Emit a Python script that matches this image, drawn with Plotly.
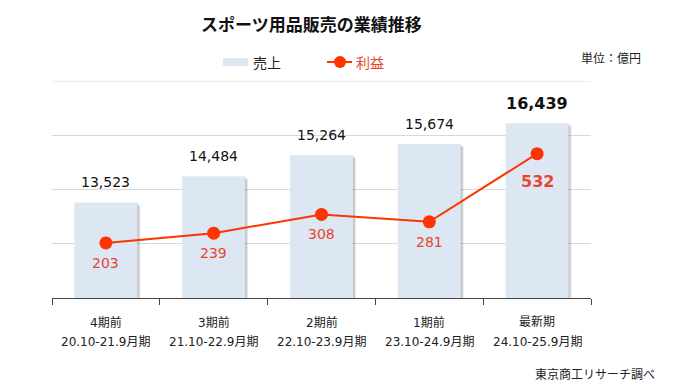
import plotly.graph_objects as go

# ---- data ----
periods = ["4期前", "3期前", "2期前", "1期前", "最新期"]
fiscal = ["20.10-21.9月期", "21.10-22.9月期", "22.10-23.9月期", "23.10-24.9月期", "24.10-25.9月期"]
sales = [13523, 14484, 15264, 15674, 16439]
profit = [203, 239, 308, 281, 532]
sales_name = "売上"
profit_name = "利益"
title_text = "スポーツ用品販売の業績推移"
unit_text = "単位：億円"
source_text = "東京商工リサーチ調べ"

# ---- layout geometry (page pixels) ----
PAGE_W, PAGE_H = 676, 391
OFF = 8  # default body margin of the html page
W, H = PAGE_W - 2 * OFF, PAGE_H - 2 * OFF
PL, PR, PT, PB = 52, 591, 81, 298
Y1 = [10000, 18000]
Y2 = [0, 800]

def fx(p):
    return (p - PL) / (PR - PL)

def fy(p):
    return (PB - p) / (PB - PT)

cat_px = (PR - PL) / len(periods)
BW = 63 / cat_px
unit_per_px = (Y1[1] - Y1[0]) / (PB - PT)

BAR_COLOR = "#dce7f3"
LINE_COLOR = "#ff3300"
PLABEL_COLOR = "#e8452f"
GRID = "#d9d9d9"
NUMFONT = "DejaVu Sans, Noto Sans CJK JP"
JPFONT = "Noto Sans CJK JP, DejaVu Sans"

fig = go.Figure()

# soft shadow layers on the right of bars
for k in (1, 2, 3):
    fig.add_trace(go.Bar(
        x=periods, y=[v - k * unit_per_px for v in sales],
        width=BW, offset=-BW / 2 + k / cat_px,
        marker=dict(color="rgba(0,0,0,0.09)", line=dict(width=0)),
        hoverinfo="skip", showlegend=False,
    ))

fig.add_trace(go.Bar(
    x=periods, y=sales, name=sales_name,
    width=BW, offset=-BW / 2,
    marker=dict(color=BAR_COLOR, line=dict(width=0)),
    showlegend=False,
))

fig.add_trace(go.Scatter(
    x=periods, y=profit, name=profit_name, yaxis="y2",
    mode="lines+markers",
    line=dict(color=LINE_COLOR, width=2),
    marker=dict(color=LINE_COLOR, size=13),
    showlegend=False,
))

annotations = []
last = len(periods) - 1
for i, (p, s, pr) in enumerate(zip(periods, sales, profit)):
    bold = i == last
    annotations.append(dict(
        xref="x", yref="y", x=p, y=s, yanchor="middle", yshift=20,
        text=(f"<b>{s:,}</b>" if bold else f"{s:,}"), showarrow=False,
        font=dict(family=NUMFONT, size=16 if bold else 14, color="#111"),
    ))
    annotations.append(dict(
        xref="x", yref="y2", x=p, y=pr, yanchor="middle", yshift=-28 if bold else -20,
        text=(f"<b>{pr:,}</b>" if bold else f"{pr:,}"), showarrow=False,
        font=dict(family=NUMFONT, size=16 if bold else 14, color=PLABEL_COLOR),
    ))
    annotations.append(dict(
        xref="x", yref="paper", x=p, y=fy(322), yanchor="middle",
        text=p, showarrow=False,
        font=dict(family=NUMFONT, size=12, color="#222"),
    ))
    annotations.append(dict(
        xref="x", yref="paper", x=p, y=fy(342), yanchor="middle",
        text=fiscal[i], showarrow=False,
        font=dict(family=NUMFONT, size=12, color="#222"),
    ))

# title
annotations.append(dict(
    xref="paper", yref="paper", x=fx(311), y=fy(23), xanchor="center", yanchor="middle",
    text=f"<b>{title_text}</b>", showarrow=False,
    font=dict(family=JPFONT, size=17, color="#111"),
))
# custom legend texts
annotations.append(dict(
    xref="paper", yref="paper", x=fx(251), y=fy(62), xanchor="left", yanchor="middle",
    text=sales_name, showarrow=False, font=dict(family=JPFONT, size=14, color="#222"),
))
annotations.append(dict(
    xref="paper", yref="paper", x=fx(354), y=fy(62), xanchor="left", yanchor="middle",
    text=profit_name, showarrow=False, font=dict(family=JPFONT, size=14, color=PLABEL_COLOR),
))
# unit & source
annotations.append(dict(
    xref="paper", yref="paper", x=fx(643), y=fy(57), xanchor="right", yanchor="middle",
    text=unit_text, showarrow=False, font=dict(family=JPFONT, size=12, color="#222"),
))
annotations.append(dict(
    xref="paper", yref="paper", x=fx(656), y=fy(373.5), xanchor="right", yanchor="middle",
    borderpad=0,
    text=source_text, showarrow=False, font=dict(family=JPFONT, size=12, color="#222"),
))

shapes = [
    # top gridline at the range edge
    dict(type="line", xref="paper", yref="y", x0=0, x1=1, y0=Y1[1], y1=Y1[1],
         line=dict(color=GRID, width=1), layer="below"),
    dict(type="rect", xref="paper", yref="paper",
         x0=fx(223), x1=fx(248), y0=fy(66), y1=fy(58),
         fillcolor=BAR_COLOR, line=dict(width=0)),
    dict(type="line", xref="paper", yref="paper",
         x0=fx(327), x1=fx(352), y0=fy(62), y1=fy(62),
         line=dict(color=LINE_COLOR, width=2)),
    dict(type="circle", xref="paper", yref="paper",
         x0=fx(334), x1=fx(346), y0=fy(68), y1=fy(56),
         fillcolor=LINE_COLOR, line=dict(width=0)),
]

fig.update_layout(
    width=W, height=H,
    margin=dict(l=PL - OFF, r=W - (PR - OFF), t=PT - OFF, b=H - (PB - OFF), pad=0),
    paper_bgcolor="white", plot_bgcolor="white",
    barmode="overlay", showlegend=False,
    xaxis=dict(type="category", range=[-0.5, len(periods) - 0.5],
               tickson="boundaries", ticks="outside", ticklen=6, tickcolor="#444",
               showline=True, linecolor="#444", linewidth=1,
               showticklabels=False, showgrid=False, zeroline=False, fixedrange=True),
    yaxis=dict(range=Y1, dtick=2000, tick0=0, showgrid=True, gridcolor=GRID, gridwidth=1,
               showticklabels=False, zeroline=False, showline=False, fixedrange=True),
    yaxis2=dict(range=Y2, overlaying="y", side="right", showgrid=False,
                showticklabels=False, zeroline=False, showline=False, fixedrange=True),
    annotations=annotations, shapes=shapes,
    font=dict(family=NUMFONT),
)

fig.write_html("out.html", config={"displayModeBar": False})
